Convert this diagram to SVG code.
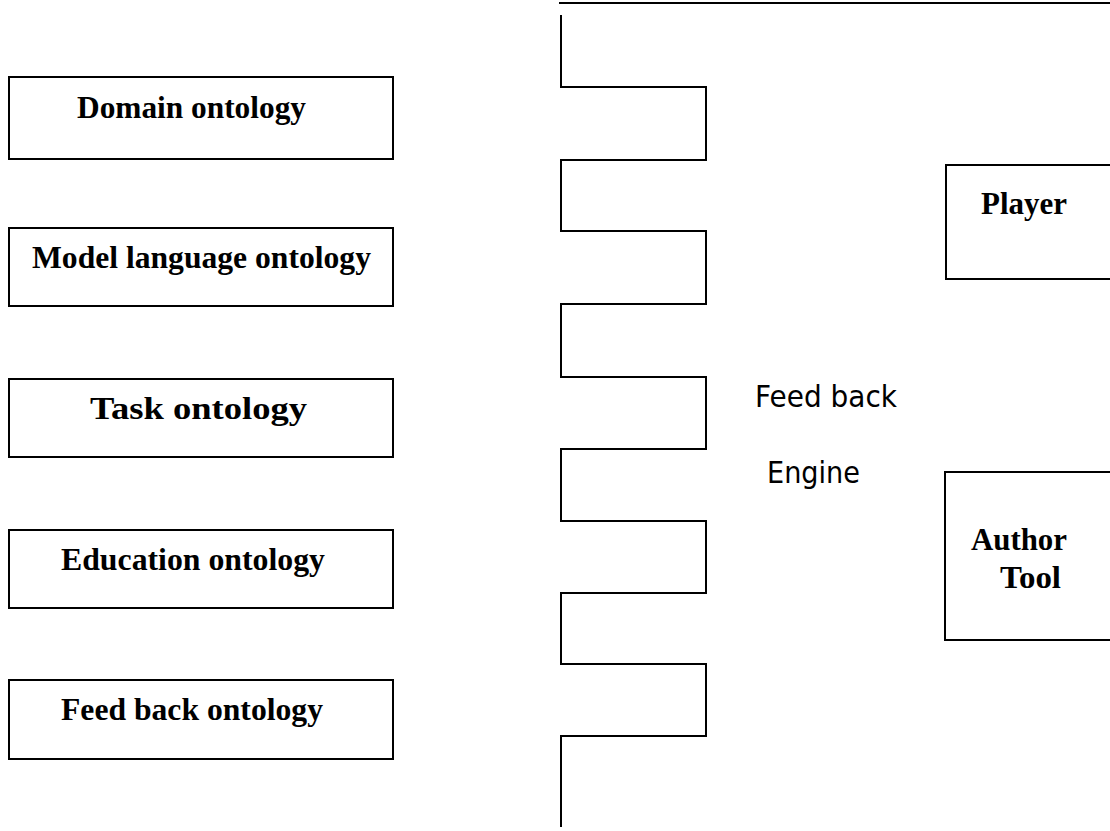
<svg xmlns="http://www.w3.org/2000/svg" width="1110" height="831" viewBox="0 0 1110 831">
<style>
.box{fill:#fff;stroke:#000;stroke-width:2}
.lbl{font-family:"Liberation Serif","Times New Roman",serif;font-weight:bold;font-size:32.5px;fill:#000}
.eng{font-family:"DejaVu Sans",Verdana,sans-serif;font-size:30px;fill:#000}
.ln{fill:none;stroke:#000;stroke-width:2}
</style>
<rect width="1110" height="831" fill="#fff"/>
<g id="domain"><rect class="box" x="9" y="77" width="384" height="82"/><text class="lbl" x="77" y="118" textLength="229" lengthAdjust="spacingAndGlyphs">Domain ontology</text></g>
<g id="model"><rect class="box" x="9" y="228" width="384" height="78"/><text class="lbl" x="32" y="268" textLength="339" lengthAdjust="spacingAndGlyphs">Model language ontology</text></g>
<g id="task"><rect class="box" x="9" y="379" width="384" height="78"/><text class="lbl" x="90" y="419" textLength="217" lengthAdjust="spacingAndGlyphs">Task ontology</text></g>
<g id="education"><rect class="box" x="9" y="530" width="384" height="78"/><text class="lbl" x="61" y="570" textLength="264" lengthAdjust="spacingAndGlyphs">Education ontology</text></g>
<g id="feedback"><rect class="box" x="9" y="680" width="384" height="79"/><text class="lbl" x="61" y="720" textLength="262" lengthAdjust="spacingAndGlyphs">Feed back ontology</text></g>
<g id="engine">
<text class="eng" x="755" y="407" textLength="142" lengthAdjust="spacingAndGlyphs">Feed back</text>
<text class="eng" x="767" y="483" textLength="93" lengthAdjust="spacingAndGlyphs">Engine</text>
</g>
<g id="player"><rect class="box" x="946" y="165" width="180" height="114"/><text class="lbl" x="981" y="214" textLength="86" lengthAdjust="spacingAndGlyphs">Player</text></g>
<g id="author"><rect class="box" x="945" y="472" width="180" height="168"/><text class="lbl" x="971" y="550" textLength="96" lengthAdjust="spacingAndGlyphs">Author</text><text class="lbl" x="1000" y="588" textLength="61" lengthAdjust="spacingAndGlyphs">Tool</text></g>
<g id="connectors">
<line class="ln" x1="559" y1="3" x2="1110" y2="3" stroke-width="2.5"/>
<polyline class="ln" points="561,15 561,87 706,87 706,160 561,160 561,231 706,231 706,304 561,304 561,377 706,377 706,449 561,449 561,521 706,521 706,593 561,593 561,664 706,664 706,736 561,736 561,827"/>
</g>
</svg>
